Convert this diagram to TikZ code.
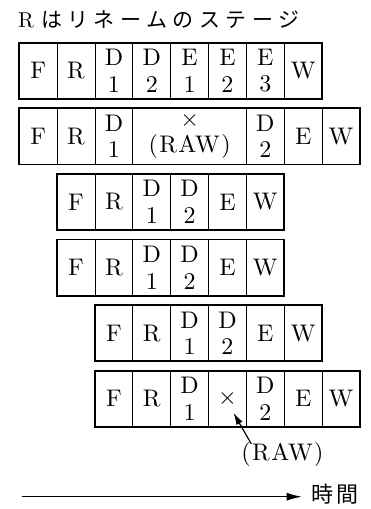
\documentclass[tikz,border=0pt]{standalone}
\usepackage{fontspec}
\setmainfont{lmroman10}[Extension=.otf, UprightFont=*-regular]
\newfontfamily\rawfont{lmroman10}[Extension=.otf, UprightFont=*-regular, LetterSpace=6]
\newfontfamily\jpfont[LetterSpace=26]{Noto Sans CJK JP}
\newfontfamily\jptime[LetterSpace=10]{Noto Sans CJK JP}
\usetikzlibrary{arrows.meta}
\begin{document}
\begin{tikzpicture}[x=1pt,y=-1pt,
  cell/.style={draw, line width=0.8pt, minimum width=37.85pt, minimum height=56.2pt,
    inner sep=0pt, outer sep=0pt, anchor=north west, align=center,
    font=\fontsize{24}{26.5}\selectfont},
  rowbox/.style={draw, line width=1.8pt},
  lbl/.style={inner sep=0pt, font=\fontsize{24}{26.5}\rawfont},
  arr/.style={line width=1.2pt, -{Latex[length=12pt,width=7pt]}},
]
\useasboundingbox (0,0) rectangle (370,509);

% title
\node[anchor=base west, inner sep=0pt] (title) at (18,27.5)
  {\fontsize{21.5}{21.5}\selectfont R\hspace{7pt}{\fontsize{21}{21}\jpfont はリネームのステージ}};

% row 1
\foreach \t [count=\i from 0] in {F,R,{D\\1},{D\\2},{E\\1},{E\\2},{E\\3},W}
  \node[cell] (a\i) at ({19.3+\i*37.85},42.7) {\t};
\draw[rowbox] (a0.north west) rectangle (a7.south east);

% row 2
\foreach \t [count=\i from 0] in {F,R,{D\\1}}
  \node[cell] (b\i) at ({19.3+\i*37.85},108.3) {\t};
\node[cell, minimum width=113.55pt] (b3) at ({19.3+3*37.85},108.3) {×\\{\rawfont (RAW)}};
\foreach \t [count=\i from 4] in {{D\\2},E,W}
  \node[cell] (b\i) at ({19.3+(\i+2)*37.85},108.3) {\t};
\draw[rowbox] (b0.north west) rectangle (b6.south east);

% row 3
\foreach \t [count=\i from 0] in {F,R,{D\\1},{D\\2},E,W}
  \node[cell] (c\i) at ({57.15+\i*37.85},173.9) {\t};
\draw[rowbox] (c0.north west) rectangle (c5.south east);

% row 4
\foreach \t [count=\i from 0] in {F,R,{D\\1},{D\\2},E,W}
  \node[cell] (d\i) at ({57.15+\i*37.85},239.5) {\t};
\draw[rowbox] (d0.north west) rectangle (d5.south east);

% row 5
\foreach \t [count=\i from 0] in {F,R,{D\\1},{D\\2},E,W}
  \node[cell] (e\i) at ({95.0+\i*37.85},305.1) {\t};
\draw[rowbox] (e0.north west) rectangle (e5.south east);

% row 6
\foreach \t [count=\i from 0] in {F,R,{D\\1},×,{D\\2},E,W}
  \node[cell] (f\i) at ({95.0+\i*37.85},370.7) {\t};
\draw[rowbox] (f0.north west) rectangle (f6.south east);

% RAW annotation
\node[lbl] (raw) at (282.5,454) {(RAW)};
\draw[arr] ([xshift=10pt,yshift=-2pt]raw.north west) -- ([shift={(6,14)}]f3.center);

% time axis
\coordinate (tstart) at (22,496.7);
\node[anchor=west, inner sep=0pt] (jikan) at (311.7,494)
  {\fontsize{22}{22}\jptime 時間};
\draw[line width=1.2pt, -{Latex[length=15pt,width=8pt]}] (tstart) -- ([xshift=-10pt]tstart -| jikan.west);
\end{tikzpicture}
\end{document}
